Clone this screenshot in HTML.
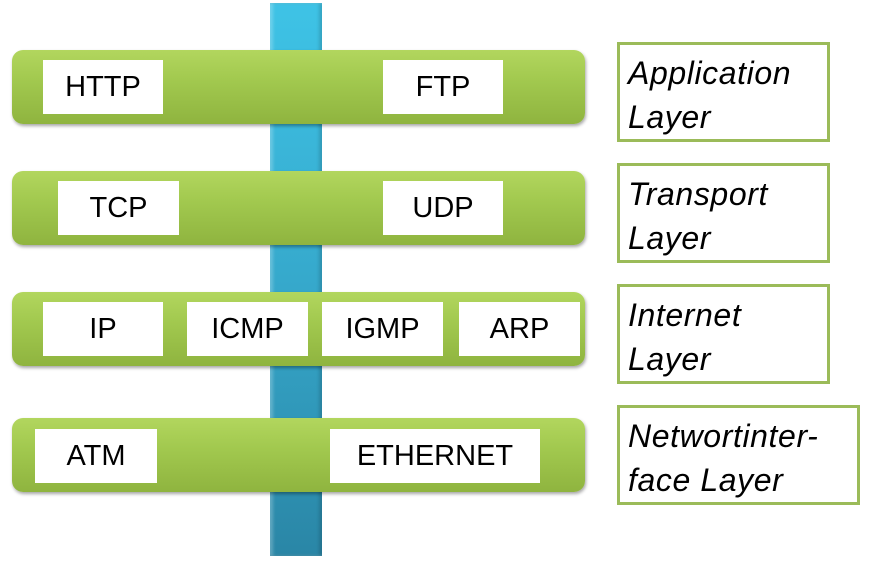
<!DOCTYPE html>
<html><head><style>
body{margin:0;width:875px;height:568px;background:#fff;position:relative;overflow:hidden;font-family:"Liberation Sans",sans-serif}
.pole{position:absolute;left:270px;top:3px;width:52px;height:553px;background:linear-gradient(180deg,#3ec3e6 0%,#36a9cc 50%,#2a86a6 100%);box-shadow:inset 3px 0 3px rgba(255,255,255,.25),inset -3px 0 3px rgba(0,0,0,.15)}
.bar{position:absolute;left:12px;width:573px;height:74px;border-radius:11px;background:linear-gradient(180deg,#b2d65e 0%,#a2c94f 40%,#8fb43f 100%);box-shadow:1px 2px 3px rgba(0,0,0,.35)}
.b{position:absolute;background:#fff;height:54px;line-height:54px;text-align:center;font-size:29px;color:#000}
.l{position:absolute;left:617px;width:207px;height:94px;border:3px solid #9bbb59;font-style:italic;font-size:32px;letter-spacing:0.6px;line-height:44px;padding:6px 0 0 8px;box-sizing:border-box;color:#000;white-space:nowrap}
</style></head><body>
<div class="pole"></div>
<div class="bar" style="top:50px"></div>
<div class="bar" style="top:171px"></div>
<div class="bar" style="top:292px"></div>
<div class="bar" style="top:418px"></div>
<div class="b" style="left:43px;top:60px;width:120px">HTTP</div>
<div class="b" style="left:383px;top:60px;width:120px">FTP</div>
<div class="b" style="left:58px;top:181px;width:121px">TCP</div>
<div class="b" style="left:383px;top:181px;width:120px">UDP</div>
<div class="b" style="left:43px;top:302px;width:120px">IP</div>
<div class="b" style="left:187px;top:302px;width:121px">ICMP</div>
<div class="b" style="left:322px;top:302px;width:121px">IGMP</div>
<div class="b" style="left:459px;top:302px;width:121px">ARP</div>
<div class="b" style="left:35px;top:429px;width:122px">ATM</div>
<div class="b" style="left:330px;top:429px;width:210px">ETHERNET</div>
<div class="l" style="top:42px;width:213px;height:100px">Application<br>Layer</div>
<div class="l" style="top:163px;width:213px;height:100px">Transport<br>Layer</div>
<div class="l" style="top:284px;width:213px;height:100px">Internet<br>Layer</div>
<div class="l" style="top:405px;width:243px;height:100px">Networtinter-<br>face Layer</div>
</body></html>
